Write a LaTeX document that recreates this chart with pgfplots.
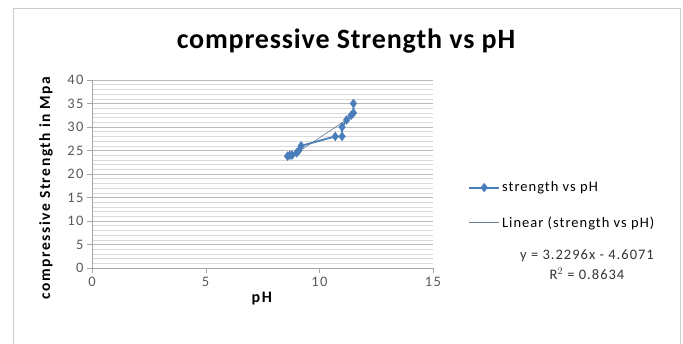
\documentclass[border=0pt]{standalone}
\usepackage{fontspec}
\setmainfont{Carlito}
\newfontfamily\spten[LetterSpace=10]{Carlito}
\newfontfamily\speight[LetterSpace=7]{Carlito}
\newfontfamily\sptwo[LetterSpace=3]{Carlito}
\usepackage{pgfplots}
\pgfplotsset{compat=1.18}
\definecolor{serblue}{HTML}{4A7EBB}
\definecolor{tickgray}{HTML}{595959}
\begin{document}
\begin{tikzpicture}[x=1pt,y=1pt]
\useasboundingbox (0,0) rectangle (683,343);
\draw[gray!40, line width=1pt] (13,-5) -- (13,334) -- (680,334) -- (680,-5);
\node[font=\fontsize{28}{32}\sptwo\bfseries] at (346,302) {compressive Strength vs pH};
\begin{axis}[
  at={(92pt,75pt)}, anchor=south west,
  scale only axis, width=341pt, height=188pt,
  xmin=0, xmax=15, ymin=0, ymax=40,
  xtick={0,5,10,15}, ytick={0,5,...,40},
  minor y tick num=4,
  ymajorgrids, yminorgrids,
  major grid style={gray!55, line width=0.5pt},
  minor grid style={gray!30, line width=0.5pt},
  axis x line*=bottom, axis y line*=left,
  axis line style={gray!70},
  tick style={gray!70},
  tick align=outside,
  minor tick length=0pt,
  major tick length=5pt,
  ticklabel style={font=\fontsize{14.5}{17}\spten, text=tickgray},
  xticklabel style={yshift=-1pt},
  /pgf/number format/assume math mode=true,
  xlabel={\textbf{pH}},
  ylabel={\textbf{compressive Strength in Mpa}},
  every axis x label/.style={at={(axis description cs:0.5,0)}, yshift=-31pt, anchor=center, font=\fontsize{16}{18}\spten},
  every axis y label/.style={at={(axis description cs:0,0.43)}, xshift=-46pt, anchor=center, rotate=90, font=\fontsize{15.5}{18}\spten},
  legend style={at={(axis description cs:1.103,0.47)}, anchor=north west, draw=none, fill=none,
    font=\fontsize{14.5}{17}\speight, row sep=19pt, cells={anchor=west}, inner sep=0pt},
  legend image code/.code={\draw[mark repeat=2,mark phase=2] plot coordinates {(0pt,0pt) (15pt,0pt) (30pt,0pt)};},
]
\addplot[color=serblue, line width=1.8pt, mark=diamond*, mark size=3.3pt, mark options={fill=serblue, draw=serblue}] coordinates {
 (8.6,23.8) (8.7,24) (8.8,24) (9.0,24.5) (9.1,25) (9.2,26)
 (10.7,28) (11.0,28) (11.0,30) (11.2,31.5) (11.4,32.5) (11.5,33) (11.5,35)
};
\addlegendentry{strength vs pH}
\addplot[color=serblue!50!gray, line width=0.6pt] coordinates {(8.6,23.17) (11.5,32.53)};
\addlegendentry{Linear (strength vs pH)}
\end{axis}
\node[font=\fontsize{14.5}{17}\speight, text=black!80] at (587,87) {y = 3.2296x - 4.6071};
\node[font=\fontsize{14.5}{17}\speight, text=black!80] at (587,69) {R$^2$ = 0.8634};
\end{tikzpicture}
\end{document}
